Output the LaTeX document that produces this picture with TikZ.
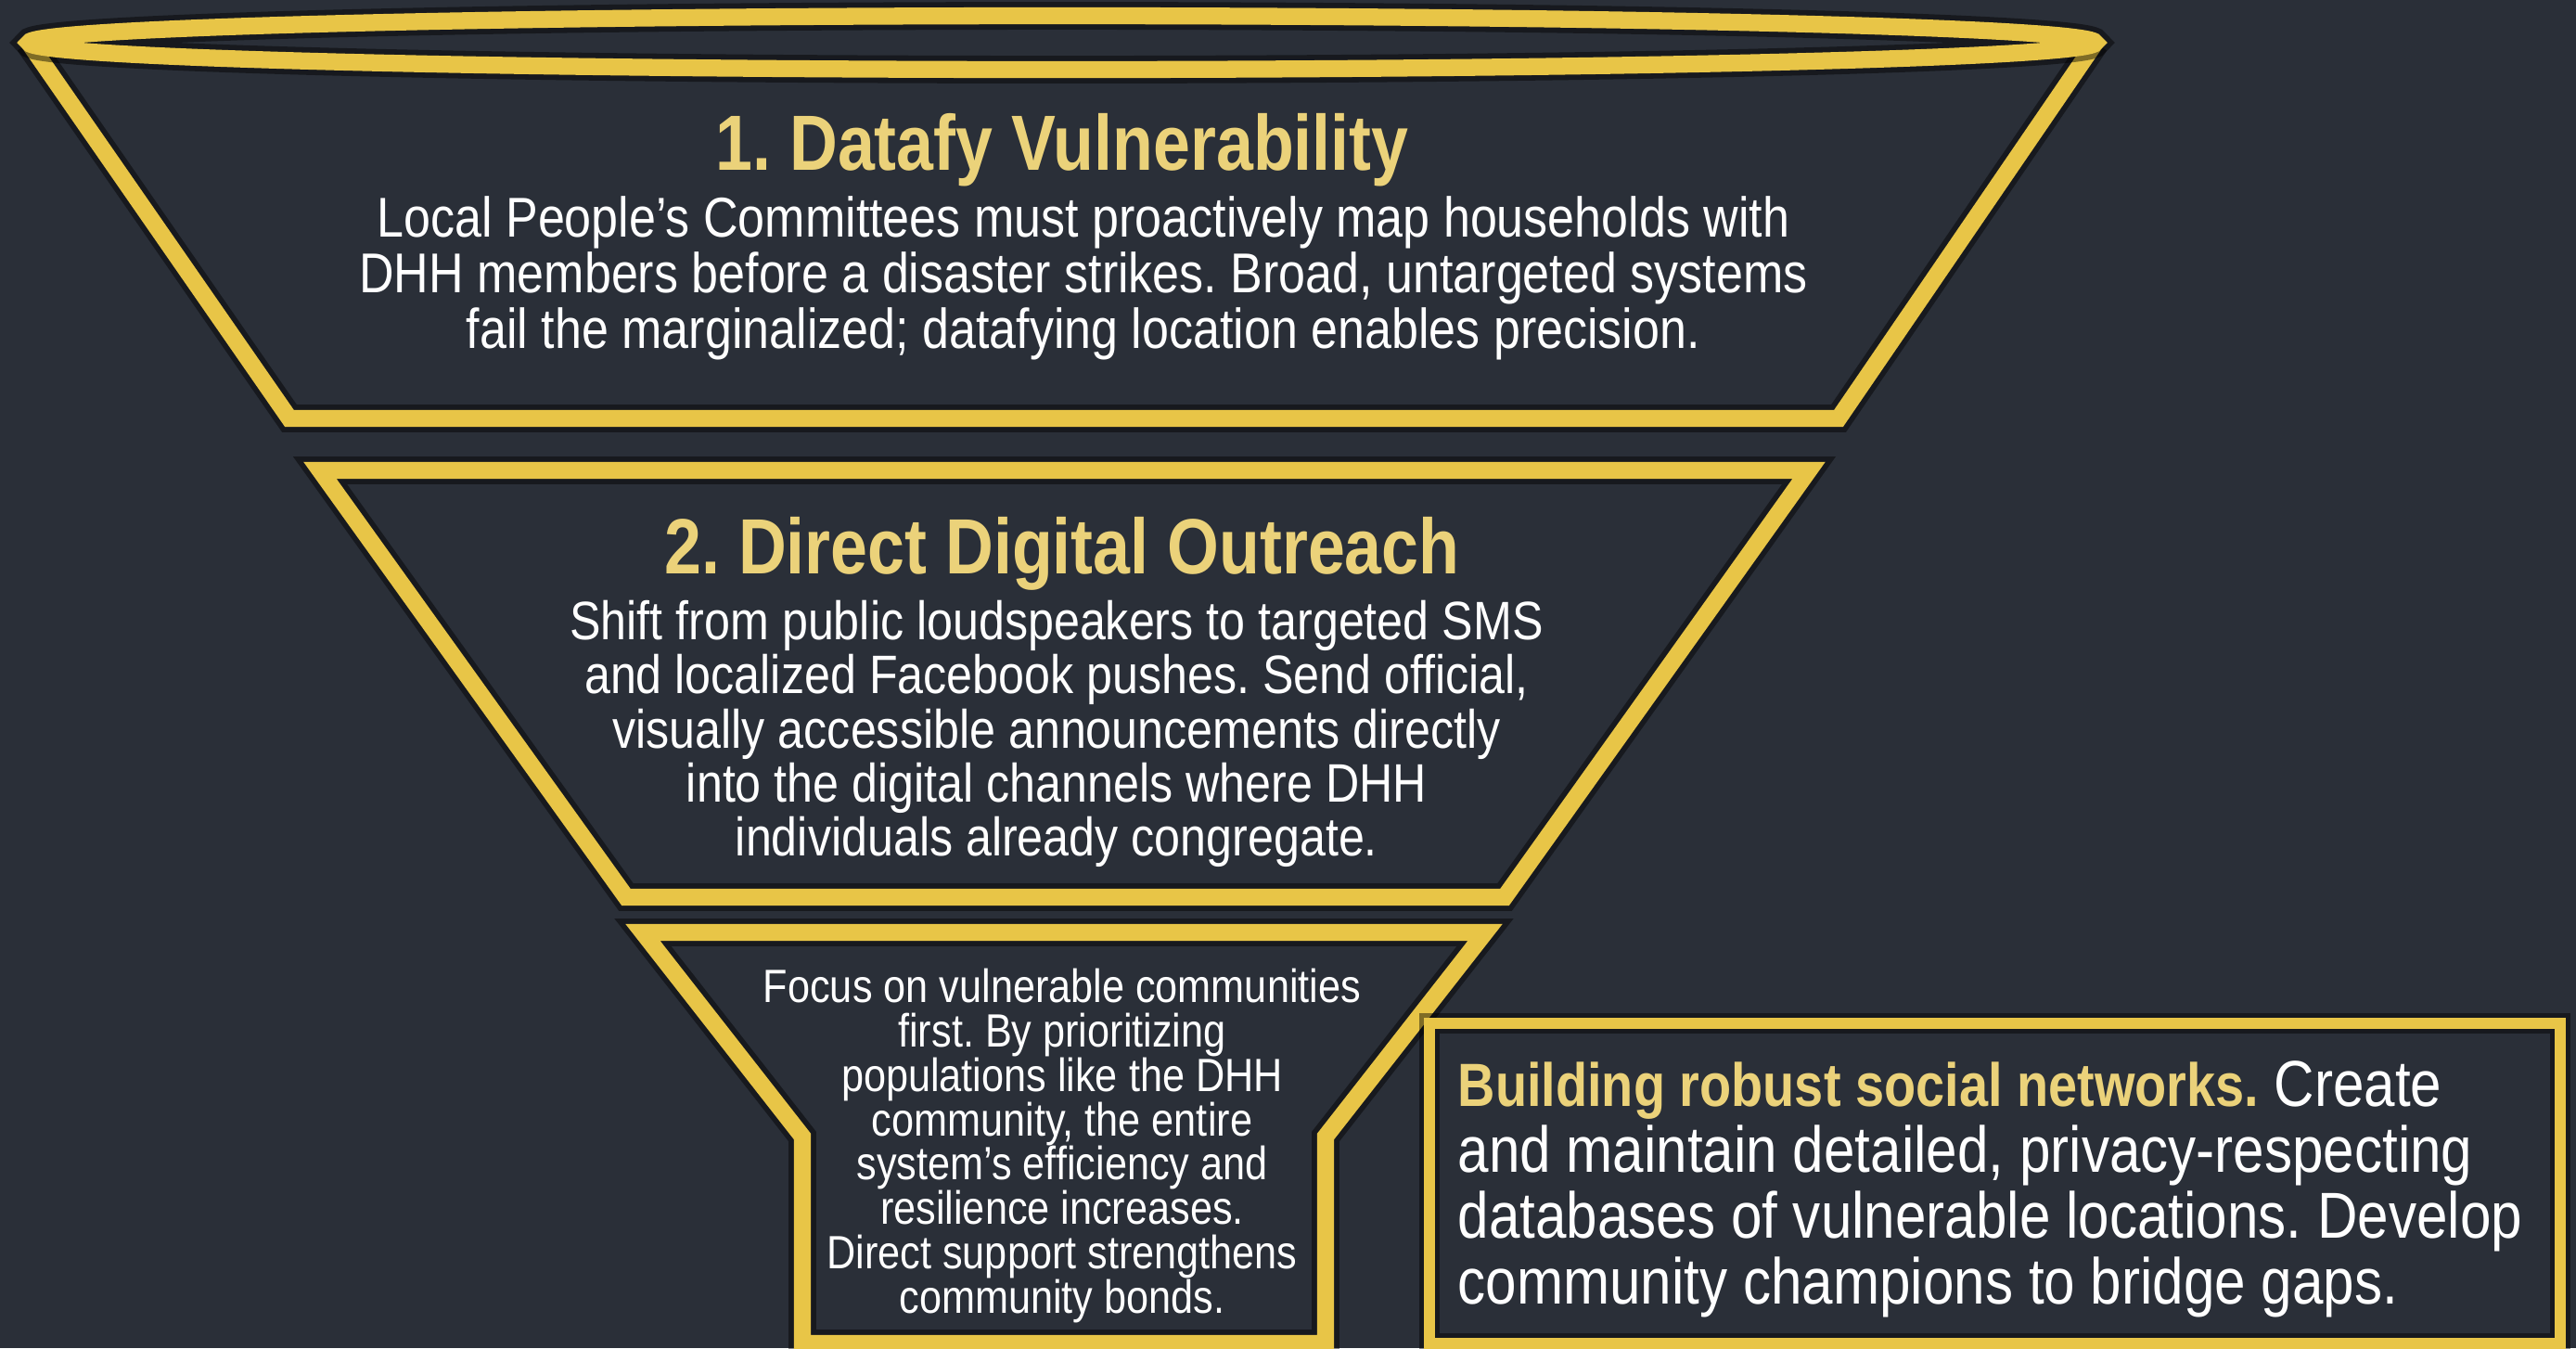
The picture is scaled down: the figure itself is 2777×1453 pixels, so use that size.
\documentclass[tikz,border=0pt]{standalone}
\usepackage{fontspec}
\setmainfont{Liberation Sans}[FakeStretch=0.86]
\newfontfamily\headfont{Liberation Sans}[FakeStretch=0.85]
\usepackage{tikz}
\usetikzlibrary{calc}
\frenchspacing
\definecolor{slate}{HTML}{2A2F38}
\definecolor{gold}{HTML}{E8C547}
\definecolor{paleGold}{HTML}{EBD27A}
\tikzset{
  rim/.style={preaction={draw=black, opacity=0.45, line width=8.5pt}, draw=gold, line width=5.2pt},
  thinrim/.style={preaction={draw=black, opacity=0.45, line width=6pt}, draw=gold, line width=3.6pt},
  head/.style={text=paleGold, inner sep=0pt, font=\headfont\bfseries\fontsize{24}{26}\selectfont},
  txt/.style={text=white, align=center, inner sep=0pt, font=\fontsize{17.2}{17.07}\selectfont},
}

\begin{document}
\begin{tikzpicture}[x=0.01cm, y=-0.01cm]
    \fill[slate] (0,0) rectangle (2777,1453);
    \useasboundingbox (0,0) rectangle (2777,1453);
    % funnel, widest part with rim
    \draw[rim] (31,46) -- (312,451) -- (1982,451) -- (2259,46);
    \draw[rim] (1145,46) ellipse (1114 and 29);
    \draw[rim] (345,507) -- (1950,507) -- (1622,967) -- (675,967) -- cycle;
    \draw[rim] (693,1005) -- (1601,1005) -- (1429,1225) -- (1429,1448) -- (865,1448) -- (865,1225) -- cycle;
    \draw[thinrim] (1541,1103) rectangle (2760,1448);
    % texts
    \node[head] (t1) at (1145,162) {1. Datafy Vulnerability};
    \node[txt] (b1) at (1168,300) {Local People's Committees must proactively map households with\\
      DHH members before a disaster strikes. Broad, untargeted systems\\
      fail the marginalized; datafying location enables precision.};
    \node[head] (t2) at (1145,597) {2. Direct Digital Outreach};
    \node[txt, font=\fontsize{16.6}{16.6}\selectfont] (b2) at (1139,791) {Shift from public loudspeakers to targeted SMS\\
      and localized Facebook pushes. Send official,\\
      visually accessible announcements directly\\
      into the digital channels where DHH\\
      individuals already congregate.};
    \node[txt, font=\fontsize{14.3}{13.6}\selectfont] (b3) at (1145,1235) {Focus on vulnerable communities\\
      first. By prioritizing\\
      populations like the DHH\\
      community, the entire\\
      system's efficiency and\\
      resilience increases.\\
      Direct support strengthens\\
      community bonds.};
    \node[txt, align=left, anchor=west, font=\fontsize{19.9}{20.2}\selectfont] (b4) at (1571,1282)
      {\textcolor{paleGold}{\headfont\bfseries\fontsize{18.7}{20.2}\selectfont Building robust social networks.} Create\\
      and maintain detailed, privacy-respecting\\
      databases of vulnerable locations. Develop\\
      community champions to bridge gaps.};
\end{tikzpicture}
\end{document}
